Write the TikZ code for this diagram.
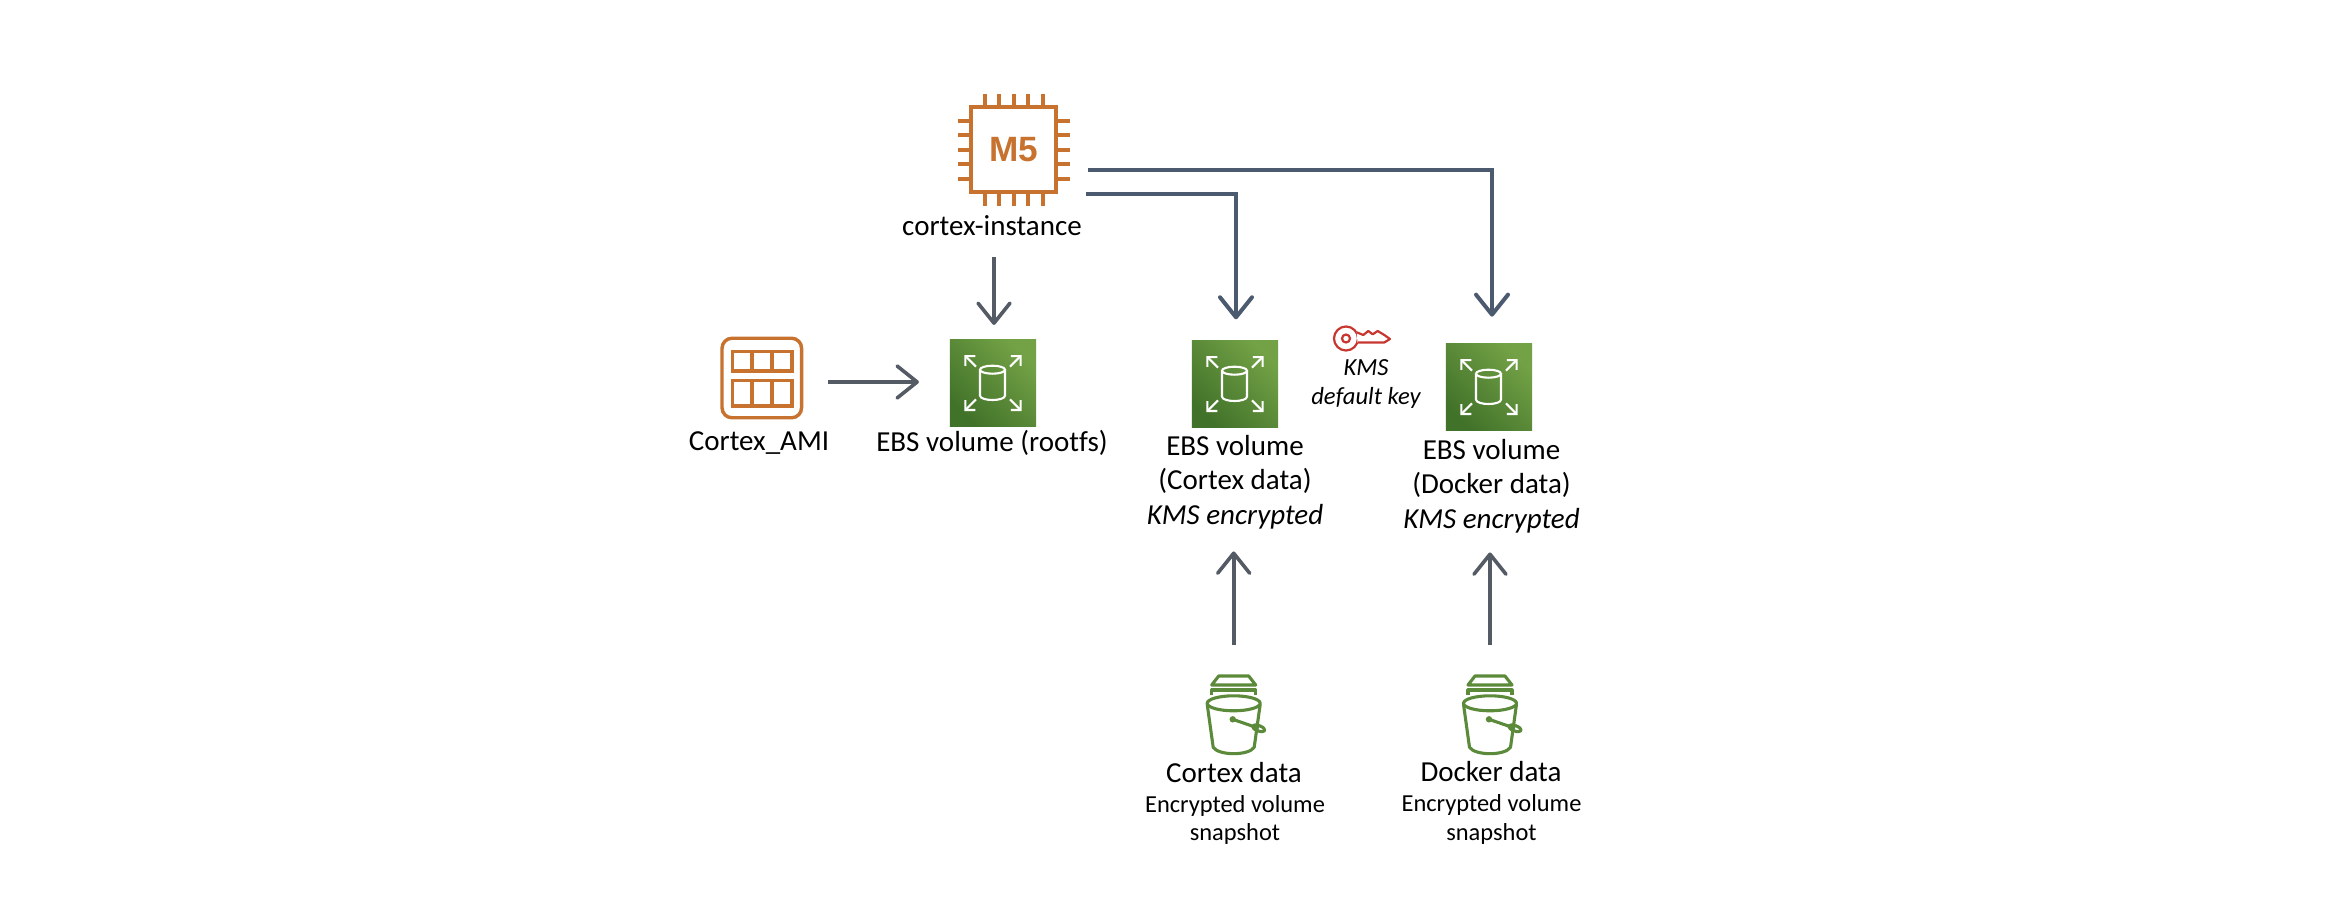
\documentclass[tikz,border=0pt]{standalone}
\usepackage{fontspec}
\setmainfont[Ligatures=NoCommon]{Carlito}
\newfontfamily\chipfont{Liberation Sans}
\usetikzlibrary{arrows.meta,positioning}

\definecolor{awsorange}{HTML}{C8722F}
\definecolor{ebsdark}{HTML}{417229}
\definecolor{ebslight}{HTML}{73A246}
\definecolor{bucketgreen}{HTML}{5B8A3A}
\definecolor{keyred}{HTML}{C7372F}
\definecolor{toparrow}{HTML}{4C5A70}
\definecolor{sidearrow}{HTML}{545B64}

\tikzset{
    lbl/.style={inner sep=0, align=center, text=black, font=\fontsize{8.25}{9.75}\selectfont},
    smalllbl/.style={inner sep=0, align=center, text=black, font=\fontsize{6.95}{8.1}\selectfont},
    keylbl/.style={inner sep=0, align=center, text=black, font=\fontsize{7}{8.5}\selectfont\itshape},
    ebsbox/.style={rectangle, inner sep=0, outer sep=0, minimum size=.86cm,
        bottom color=ebsdark, top color=ebslight, shading angle=-45},
    ebsline/.style={draw=white, line width=.021cm},
    bucketbox/.style={rectangle, inner sep=0, outer sep=0, minimum width=.53cm, minimum height=.8cm},
    bucketline/.style={draw=bucketgreen, line width=.031cm, line join=round},
    orangeline/.style={draw=awsorange, line width=.04cm},
    amiline/.style={draw=awsorange, line width=.033cm},
    keyline/.style={draw=keyred, line width=.022cm, line join=round},
    toplink/.style={draw=toparrow, line width=.04cm,
        -{Straight Barb[length=.2cm,width=.32cm,round]}},
    sidelink/.style={draw=sidearrow, line width=.036cm,
        -{Straight Barb[length=.2cm,width=.32cm,round]}}
}

\newcommand{\ebsvol}[3]{
    \node[ebsbox] (#1) at (#2,#3) {};
    \begin{scope}[shift={(#2,#3)}]
        \draw[ebsline] (-.5,-13.3) ellipse (12.5 and 4);
        \draw[ebsline] (-13,-13.3) -- (-13,12.5) .. controls (-13,18.5) and (12,18.5) .. (12,12.5) -- (12,-13.3);
        \foreach \sx/\sy in {-1/-1,1/-1,-1/1,1/1}
            \draw[ebsline,-{Straight Barb[length=.07cm,width=.14cm]}] (\sx*17,\sy*16.3) -- (\sx*28.7,\sy*28);
    \end{scope}
}

\newcommand{\bucket}[2]{
    \node[bucketbox] (#1) at (#2,715) {};
    \begin{scope}[shift={(#2,703.3)}]
        \draw[bucketline] (-15,-27.3) -- (15,-27.3) -- (22,-18.3) -- (-22,-18.3) -- cycle;
        \draw[bucketline] (-22,-8.3) -- (-22,-13.3) -- (22,-13.3) -- (22,-8.3);
        \draw[bucketline] (0,0) ellipse (26.5 and 7.5);
        \draw[bucketline] (-26.5,1) -- (-20.5,44) .. controls (-15,52.5) and (15,52.5) .. (20.5,44) -- (26.5,1);
        \fill[bucketgreen] (-1,16) circle (3.2);
        \draw[bucketline] (-1,16) -- (25,25);
        \draw[bucketline,rotate around={-20:(25,25)}] (25,25) ellipse (6.5 and 2.7);
    \end{scope}
}

\begin{document}
\begin{tikzpicture}[x=.01cm,y=-.01cm]
    \path[use as bounding box] (0,0) rectangle (2344,912);

    \node[rectangle, draw=awsorange, line width=.04cm, inner sep=0, outer sep=0, minimum size=.85cm] (chip) at (1013.5,149.5) {};
    \foreach \pin in {-29,-14.5,0,14.5,29} {
        \draw[orangeline] (1013.5+\pin,107) -- (1013.5+\pin,94);
        \draw[orangeline] (1013.5+\pin,192) -- (1013.5+\pin,206);
        \draw[orangeline] (971,149.5+\pin) -- (958,149.5+\pin);
        \draw[orangeline] (1056,149.5+\pin) -- (1070,149.5+\pin);
    }
    \node[inner sep=0, text=awsorange, font=\fontsize{10}{12}\selectfont\chipfont\bfseries] (chipname) at (1014,149.5) {M5};
    \node[lbl] (chiplabel) at (992,226) {cortex-instance};

    \node[rectangle, rounded corners=.1cm, draw=awsorange, line width=.034cm, inner sep=0, outer sep=0, minimum size=.795cm] (amiicon) at (761.8,378) {};
    \draw[amiline] (732.5,351.5) rectangle (792,371);
    \draw[amiline] (732.5,380.5) rectangle (792,406);
    \draw[amiline] (752,351.5) -- (752,371);
    \draw[amiline] (772,351.5) -- (772,371);
    \draw[amiline] (752,380.5) -- (752,406);
    \draw[amiline] (772,380.5) -- (772,406);
    \node[lbl] (amilabel) at (759,443) {Cortex\_AMI};

    \ebsvol{rootvol}{993}{383}
    \node[lbl] (rootlabel) at (992,443) {EBS volume (rootfs)};

    \ebsvol{cortexvol}{1235}{384}
    \node[lbl] (cortexlabel) at (1235,482) {EBS volume\\(Cortex data)\\\textit{KMS encrypted}};

    \ebsvol{dockervol}{1489}{387}
    \node[lbl] (dockerlabel) at (1491.5,486) {EBS volume\\(Docker data)\\\textit{KMS encrypted}};

    \draw[keyline] (1346,338.5) circle (12);
    \draw[keyline] (1346,338.5) circle (4);
    \draw[keyline,fill=white] (1356.7,332.3) -- (1363.3,335) -- (1368.3,331) -- (1372.7,334.3) -- (1377.7,331) -- (1384.3,335) -- (1390,339) -- (1384.3,342.5) -- (1357.5,342.5);
    \node[keylbl] (keylabel) at (1366,384) {KMS\\default key};

    \bucket{cortexbucket}{1233.7}
    \node[lbl] (cortexname) at (1234,773) {Cortex data};
    \node[smalllbl] (cortexnote) at (1235,820) {Encrypted volume\\snapshot};

    \bucket{dockerbucket}{1490}
    \node[lbl] (dockername) at (1491,772) {Docker data};
    \node[smalllbl] (dockernote) at (1491.5,819.5) {Encrypted volume\\snapshot};

    \draw[toplink, shorten <=.32cm, shorten >=.273cm] ([yshift=-.205cm]chip.east) -| ([xshift=.03cm]dockervol.north);
    \draw[toplink, shorten <=.30cm, shorten >=.217cm] ([yshift=-.445cm]chip.east) -| ([xshift=.01cm]cortexvol.north);
    \draw[sidelink, shorten <=.2cm, shorten >=.15cm] ([xshift=.01cm]rootvol.north |- chiplabel.south) -- ([xshift=.01cm]rootvol.north);
    \draw[sidelink, shorten <=.265cm, shorten >=.31cm] ([yshift=-.04cm]amiicon.east) -- ([yshift=.01cm]rootvol.west);
    \draw[sidelink, shorten <=.30cm, shorten >=.22cm] (cortexbucket.north) -- (cortexbucket.north |- cortexlabel.south);
    \draw[sidelink, shorten <=.30cm, shorten >=.19cm] (dockerbucket.north) -- (dockerbucket.north |- dockerlabel.south);
\end{tikzpicture}
\end{document}
